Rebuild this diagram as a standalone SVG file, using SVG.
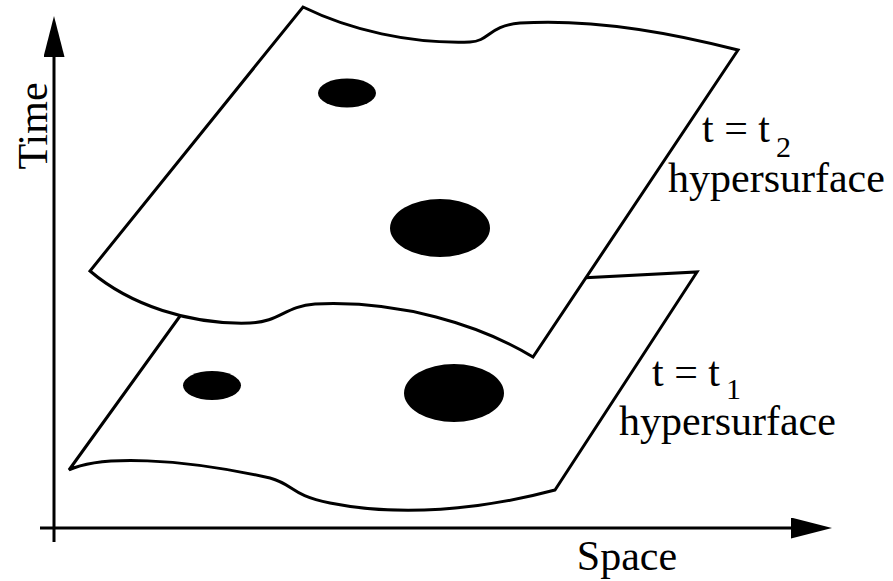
<svg xmlns="http://www.w3.org/2000/svg" width="893" height="581" viewBox="0 0 893 581">
  <style>
    .edge { fill: #ffffff; stroke: #000000; stroke-width: 3; stroke-linejoin: miter; }
    .axis { fill: none; stroke: #000000; stroke-width: 3; }
    .blob { fill: #000000; stroke: none; }
    .lbl { font-family: "Liberation Serif", "Times New Roman", serif; font-size: 42px; fill: #000000; }
    .sub { font-size: 30px; }
  </style>
  <defs>
    <marker id="arrow" viewBox="0 0 41 21" markerWidth="41" markerHeight="21" refX="0" refY="10.5" orient="auto" markerUnits="userSpaceOnUse">
      <path d="M0,0 L41,10.5 L0,21 Z" fill="#000000"/>
    </marker>
  </defs>
  <rect x="0" y="0" width="893" height="581" fill="#ffffff"/>

  <g id="axes">
    <line class="axis" x1="54" y1="542" x2="54" y2="57" marker-end="url(#arrow)"/>
    <line class="axis" x1="40" y1="528" x2="791" y2="528" marker-end="url(#arrow)"/>
    <text class="lbl" transform="translate(47,126) rotate(-90)" text-anchor="middle">Time</text>
    <text class="lbl" x="627" y="570" text-anchor="middle">Space</text>
  </g>

  <g id="surface-t1">
    <path class="edge" d="M69,470 L193,298 L697,272 L555,490 C480,510 400,517 330,503 C290,495 295,485 270,478 C180,458 100,455 69,470 Z"/>
    <ellipse class="blob" cx="212" cy="385.5" rx="29" ry="14.5"/>
    <ellipse class="blob" cx="454" cy="393" rx="50" ry="29"/>
  </g>

  <g id="surface-t2">
    <path class="edge" d="M303,7 C350,30 410,44 470,42 C490,41 488,26 520,23 C600,18 680,35 738,50 L533,357 C480,325 400,300 315,304 C285,306 280,322 250,323 C190,325 130,305 90,271 Z"/>
    <ellipse class="blob" cx="347" cy="93" rx="29" ry="14.5"/>
    <ellipse class="blob" cx="440" cy="228" rx="50" ry="29"/>
  </g>

  <g id="label-t2">
    <text class="lbl" x="702" y="142">t = t<tspan class="sub" dx="6" dy="15">2</tspan></text>
    <text class="lbl" x="668" y="192">hypersurface</text>
  </g>

  <g id="label-t1">
    <text class="lbl" x="652" y="386">t = t<tspan class="sub" dx="6" dy="13">1</tspan></text>
    <text class="lbl" x="619" y="435">hypersurface</text>
  </g>
</svg>
